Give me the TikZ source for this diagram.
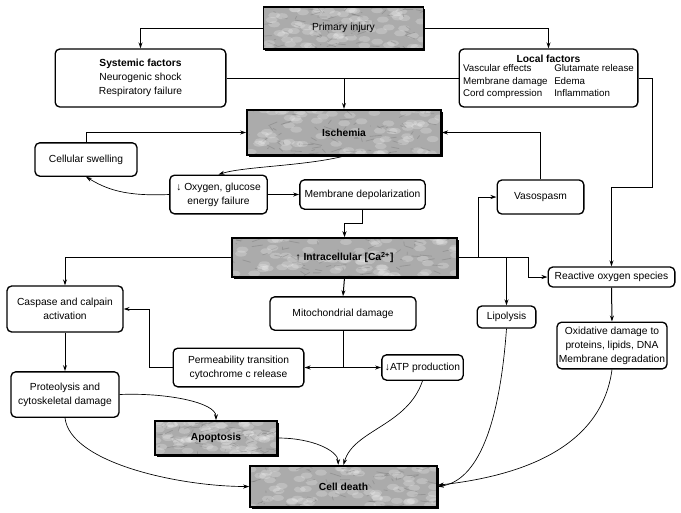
\documentclass[tikz,border=0pt]{standalone}
\usepackage{fontspec}
\setmainfont{Liberation Sans}
\usetikzlibrary{arrows.meta,shadows,calc}

\tikzset{every picture/.style={line width=0.75pt}}

% mottled grey texture for the grey boxes
\tikzset{
  stone/.style={path picture={
    \foreach \k in {1,...,#1}{
      \pgfmathsetmacro\rx{rnd}\pgfmathsetmacro\ry{rnd}
      \fill[white, opacity=0.22]
        ($($(path picture bounding box.south west)!\ry!(path picture bounding box.north west)$)!\rx!($(path picture bounding box.south east)!\ry!(path picture bounding box.north east)$)$)
        ellipse (6 and 3);
      \pgfmathsetmacro\rx{rnd}\pgfmathsetmacro\ry{rnd}
      \pgfmathsetmacro\dx{rand*12}\pgfmathsetmacro\dy{rand*4}
      \draw[black!60, opacity=0.3, line width=0.6pt, line cap=round]
        ($($(path picture bounding box.south west)!\ry!(path picture bounding box.north west)$)!\rx!($(path picture bounding box.south east)!\ry!(path picture bounding box.north east)$)$)
        -- ++(\dx,\dy);
    }}},
}

\begin{document}
\begin{tikzpicture}[x=0.75pt,y=0.75pt,yscale=-1,xscale=1,
  font=\fontsize{7.7}{10.5}\selectfont,
  box/.style={draw, rounded corners=3.5pt, line width=1pt, align=center, inner sep=1pt, fill=white},
  grey/.style={draw, line width=1.4pt, fill=black!33, align=center, inner sep=1pt, stone=70,
    drop shadow={shadow xshift=1.4pt, shadow yshift=-1.4pt, fill=black, opacity=1}},
  arr/.style={-{Stealth[length=4.5pt,width=3pt]}},
  curv/.style={-{Stealth[length=4.5pt,width=3pt]}, line width=0.5pt},
]
\path[use as bounding box] (0,0) rectangle (681,512);
\pgfmathsetseed{4211}

% Grey boxes
\node[grey, minimum width=120pt, minimum height=31.5pt] (primary) at (343.5,28) {Primary injury};
\node[grey, minimum width=145.5pt, minimum height=34pt] (ischemia) at (344,132.5) {\textbf{Ischemia}};
\node[grey, minimum width=169pt, minimum height=29pt] (intra) at (344.5,257.5) {↑ \textbf{Intracellular [Ca\textsuperscript{2+}]}};
\node[grey, minimum width=91.5pt, minimum height=25.5pt] (apop) at (216,438) {\textbf{Apoptosis}};
\node[grey, minimum width=140pt, minimum height=31pt] (cd) at (343.5,486.5) {\textbf{Cell death}};

% Rounded boxes
\node[box, minimum width=128pt, minimum height=43.5pt] (systemic) at (140.5,78) {\textbf{Systemic factors}\\ Neurogenic shock\\ Respiratory failure};
\node[box, minimum width=134pt, minimum height=43.5pt] (local) at (548.5,78) {\textbf{Local factors}\\[-1.5pt]
  {\fontsize{7.3}{9.6}\selectfont\begin{tabular}{@{}l@{\hspace{5pt}}l@{}}
  Vascular effects & Glutamate release\\ Membrane damage & Edema\\ Cord compression & Inflammation
  \end{tabular}}};
\node[box, minimum width=76.5pt, minimum height=25pt] (cell) at (86,159.5) {Cellular swelling};
\node[box, minimum width=73pt, minimum height=29pt] (oxygen) at (218.5,194.5) {↓ Oxygen, glucose\\ energy failure};
\node[box, minimum width=94pt, minimum height=22pt] (memb) at (362.5,194.5) {Membrane depolarization};
\node[box, minimum width=65pt, minimum height=25.5pt] (vaso) at (540.5,197) {Vasospasm};
\node[box, minimum width=87pt, minimum height=34.5pt] (casp) at (65,309) {Caspase and calpain\\ activation};
\node[box, minimum width=95pt, minimum height=15pt] (ros) at (611.5,277) {Reactive oxygen species};
\node[box, minimum width=44pt, minimum height=16.5pt] (lipo) at (506.5,317) {Lipolysis};
\node[box, minimum width=109.5pt, minimum height=25pt] (mito) at (343,313.5) {Mitochondrial damage};
\node[box, minimum width=82.5pt, minimum height=35pt] (oxid) at (612,345.5) {Oxidative damage to\\ proteins, lipids, DNA\\ Membrane degradation};
\node[box, minimum width=98pt, minimum height=29pt] (perm) at (238.5,367.5) {Permeability transition\\ cytochrome c release};
\node[box, minimum width=61pt, minimum height=19pt] (atp) at (422.5,367.5) {↓ATP production};
\node[box, minimum width=81pt, minimum height=34pt] (prot) at (65,394.5) {Proteolysis and\\ cytoskeletal damage};

% Straight connectors
\draw[arr] (primary.west) -| (systemic.north);
\draw[arr] (primary.east) -| (local.north);
\draw (systemic.east) -- (local.west);
\draw[arr] (ischemia.north |- systemic.east) -- (ischemia.north);
\draw[arr] (local.east) -- ++(14,0) |- (611.5,187) -- (ros.north);
\draw[arr] (cell.north) |- (ischemia.west);
\draw[arr] (oxygen.east) -- (memb.west);
\draw[arr] (memb.south) -- ++(0,14) -| (intra.north);
\draw[arr] (vaso.north) |- (ischemia.east);
\draw[arr] (intra.west) -| (casp.north);
\draw[arr] (intra.east) -- ++(20,0) |- (vaso.west);
\draw[arr] (intra.east) -| (lipo.north);
\draw[arr] (intra.east) -- ++(70,0) |- (ros.west);
\draw[arr] (ros.south) -- (oxid.north);
\draw[arr] (intra.south) -- (mito.north);
\draw[arr] (mito.south) |- (perm.east);
\draw[arr] (mito.south) |- (atp.west);
\draw[arr] (perm.west) -- ++(-23,0) |- (casp.east);
\draw[arr] (casp.south) -- (prot.north);

% Curved connectors
\draw[curv] (ischemia.south) .. controls +(-40,10) and +(25,-8) .. (oxygen.north);
\draw[curv] (oxygen.west) .. controls +(-45,2) and +(20,12) .. (cell.south);
\draw[curv] (prot.east) .. controls +(45,-2) and +(0,-18) .. (apop.north);
\draw[curv] (prot.south) .. controls +(5,45) and +(-70,0) .. (cd.west);
\draw[curv] (apop.east) .. controls +(35,0) and +(0,-14) .. ([xshift=-4pt]cd.north);
\draw[curv] (atp.south) .. controls +(-15,45) and +(10,-35) .. (cd.north);
\draw[curv] (lipo.south) .. controls +(-8,110) and +(35,-5) .. (cd.east);
\draw[curv] (oxid.south) .. controls +(-10,75) and +(90,-10) .. ([yshift=-1pt]cd.east);
\end{tikzpicture}
\end{document}
